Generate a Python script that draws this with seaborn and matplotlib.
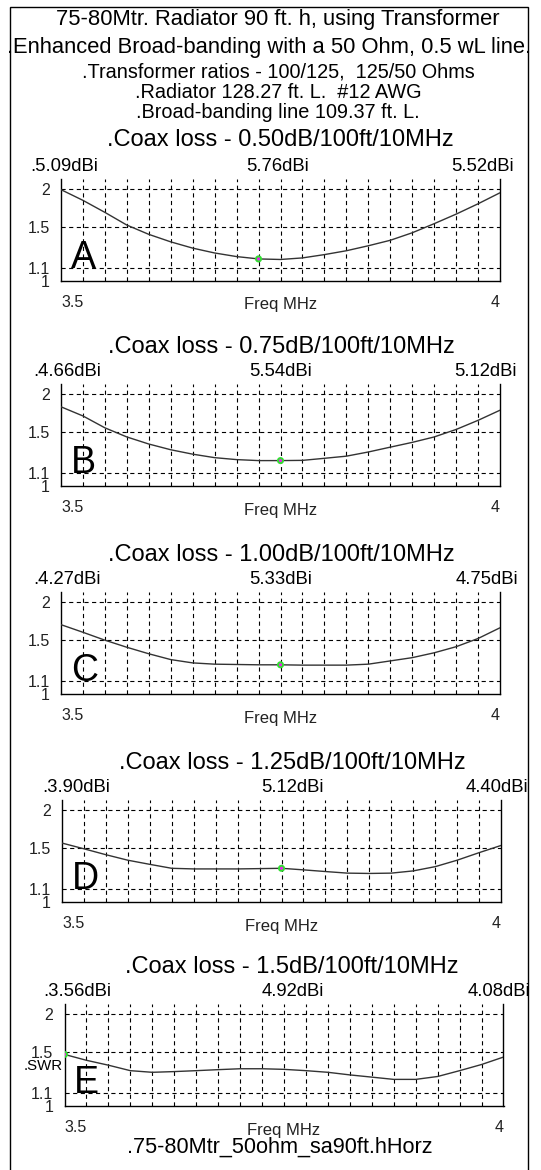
import matplotlib
matplotlib.use("Agg")
import matplotlib.pyplot as plt
import seaborn as sns
import pandas as pd
from matplotlib.patches import Rectangle
from matplotlib.ticker import FixedLocator, NullLocator

# ---------------- data ----------------
freq = [3.5, 3.525, 3.55, 3.575, 3.6, 3.625, 3.65, 3.675, 3.7, 3.725, 3.75,
        3.775, 3.8, 3.825, 3.85, 3.875, 3.9, 3.925, 3.95, 3.975, 4.0]

swr_a = [1.99, 1.836, 1.677, 1.524, 1.421, 1.343, 1.281, 1.235, 1.202, 1.181, 1.176,
         1.190, 1.220, 1.256, 1.304, 1.359, 1.438, 1.540, 1.655, 1.789, 1.944]
swr_b = [1.816, 1.695, 1.550, 1.447, 1.372, 1.314, 1.271, 1.238, 1.220, 1.211, 1.211,
         1.213, 1.232, 1.252, 1.292, 1.340, 1.389, 1.447, 1.531, 1.640, 1.770]
swr_c = [1.686, 1.592, 1.500, 1.422, 1.354, 1.296, 1.264, 1.252, 1.249, 1.246, 1.246,
         1.243, 1.243, 1.243, 1.252, 1.283, 1.315, 1.364, 1.428, 1.519, 1.647]
swr_d = [1.559, 1.493, 1.428, 1.370, 1.328, 1.289, 1.283, 1.283, 1.283, 1.286, 1.289,
         1.274, 1.258, 1.243, 1.240, 1.243, 1.264, 1.305, 1.370, 1.450, 1.531]
swr_e = [1.475, 1.411, 1.360, 1.305, 1.289, 1.296, 1.305, 1.315, 1.324, 1.324, 1.318,
         1.305, 1.289, 1.264, 1.243, 1.222, 1.222, 1.249, 1.305, 1.367, 1.446]

marker_freq = [3.725, 3.75, 3.75, 3.75, 3.5]
marker_swr = [1.181, 1.211, 1.246, 1.289, 1.475]

letters = ["A", "B", "C", "D", "E"]
coax_loss = ["0.50", "0.75", "1.00", "1.25", "1.5"]
gain_low = ["5.09", "4.66", "4.27", "3.90", "3.56"]
gain_mid = ["5.76", "5.54", "5.33", "5.12", "4.92"]
gain_high = ["5.52", "5.12", "4.75", "4.40", "4.08"]

y_ticks = [1, 1.1, 1.5, 2]
y_tick_labels = ["1", "1.1", "1.5", "2"]
x_ticks = [3.5, 4]
x_tick_labels = ["3.5", "4"]

title_lines = [
    "75-80Mtr. Radiator 90 ft. h, using Transformer",
    ".Enhanced Broad-banding with a 50 Ohm, 0.5 wL line.",
    ".Transformer ratios - 100/125,  125/50 Ohms",
    ".Radiator 128.27 ft. L.  #12 AWG",
    ".Broad-banding line 109.37 ft. L.",
]
footer = ".75-80Mtr_50ohm_sa90ft.hHorz"

# ---------------- layout (pixels) ----------------
W, H = 541, 1170
sns.set_style("white")
plt.rcParams["font.family"] = ["Liberation Sans", "DejaVu Sans"]
plt.rcParams["lines.scale_dashes"] = False

fig = plt.figure(figsize=(W / 100, H / 100), dpi=100)


def fx(x):
    return x / W


def fy(y):
    return 1 - y / H


TXT = "#000000"

# title block
title_y = [20, 47, 72, 92, 112]
title_size = [15.8, 15.8, 14.3, 14.3, 14.3]
title_x = [278, 269, 278, 278, 278]
for t, yy, sz, xx in zip(title_lines, title_y, title_size, title_x):
    fig.text(fx(xx), fy(yy), t, ha="center", va="center", fontsize=sz, color=TXT)

panel_y0 = [189, 394, 602, 810, 1014]           # pixel row of SWR=2 line
ax_left = [61, 61, 61, 62, 64.5]
ax_right = [500, 500, 500, 501, 503.5]
low_x = [30, 33, 33, 42, 43]
mid_x = [278, 281, 281, 292, 293]
high_x = [514, 517, 518, 528, 530]
coax_x = [280, 281, 281, 292, 292]

swr_all = [swr_a, swr_b, swr_c, swr_d, swr_e]
ytop = 10 ** (0.30103 * 102 / 92)

for i in range(5):
    y0 = panel_y0[i]
    top_px = y0 - 10
    bot_px = y0 + 92
    ax = fig.add_axes([fx(ax_left[i]), fy(bot_px), (ax_right[i] - ax_left[i]) / W,
                       (bot_px - top_px) / H])
    df = pd.DataFrame({"freq": freq, "swr": swr_all[i]})
    ax.set_yscale("log")
    sns.lineplot(data=df, x="freq", y="swr", ax=ax, color="#333333", lw=1.0, zorder=3)
    mk = pd.DataFrame({"freq": [marker_freq[i]], "swr": [marker_swr[i]]})
    sns.scatterplot(data=mk, x="freq", y="swr", ax=ax, color="#33dd33", s=26,
                    edgecolor="none", zorder=5)
    sns.scatterplot(data=mk, x="freq", y="swr", ax=ax, color="#ee22ee", s=5,
                    edgecolor="none", zorder=6)
    ax.set_xlim(3.5, 4.0)
    ax.set_ylim(1, ytop)

    ax.yaxis.set_major_locator(FixedLocator(y_ticks))
    ax.yaxis.set_minor_locator(NullLocator())
    ax.set_yticklabels(y_tick_labels)
    ax.xaxis.set_major_locator(FixedLocator(x_ticks))
    ax.xaxis.set_minor_locator(FixedLocator(freq))
    ax.set_xticklabels(x_tick_labels)
    xl = ax.get_xticklabels()
    xl[0].set_ha("left")
    xl[1].set_ha("right")
    ax.tick_params(axis="both", which="both", length=0)
    ax.tick_params(axis="y", labelsize=11.5, pad=8, labelcolor="#222222")
    ax.tick_params(axis="x", labelsize=11.5, pad=10, labelcolor="#222222")

    ax.grid(False)
    for yv in [1.1, 1.5, 2]:
        ax.axhline(yv, color="black", lw=0.8, dashes=(3, 2.5), zorder=1)
    ax.grid(which="minor", axis="x", color="black", lw=0.8, linestyle=(0, (3, 2.5)))

    ax.set_xlabel("Freq MHz", fontsize=12, color="#222222")
    ax.xaxis.label.set_va("center")
    ax.xaxis.set_label_coords(0.5, -24 / 102)
    ax.set_ylabel("")

    for side in ["left", "right", "bottom"]:
        ax.spines[side].set_visible(True)
        ax.spines[side].set_color("black")
        ax.spines[side].set_linewidth(1.0)
    ax.spines["top"].set_visible(False)

    ax.text(3.511, 1.103, letters[i], fontsize=27, ha="left", va="baseline", color=TXT,
            zorder=4)

    fig.text(fx(coax_x[i]), fy(y0 - 49 if i == 0 else y0 - 47),
             ".Coax loss - " + coax_loss[i] + "dB/100ft/10MHz",
             ha="center", va="center", fontsize=17, color=TXT)
    gy = fy(y0 - 22)
    fig.text(fx(low_x[i]), gy, "." + gain_low[i] + "dBi", ha="left", va="center",
             fontsize=13.3, color=TXT)
    fig.text(fx(mid_x[i]), gy, gain_mid[i] + "dBi", ha="center", va="center",
             fontsize=13.3, color=TXT)
    fig.text(fx(high_x[i]), gy, gain_high[i] + "dBi", ha="right", va="center",
             fontsize=13.3, color=TXT)

    if i == 4:
        fig.text(fx(63), fy(1066), ".SWR", ha="right", va="center", fontsize=10.8,
                 color=TXT)

fig.text(fx(280), fy(1147), footer, ha="center", va="center", fontsize=15.6, color=TXT)

fig.add_artist(Rectangle((fx(10), fy(1180)), (528 - 10) / W, (1180 - 7) / H,
                         transform=fig.transFigure, fill=False, lw=1.0, ec="black"))

fig.savefig("out.png", dpi=100)
